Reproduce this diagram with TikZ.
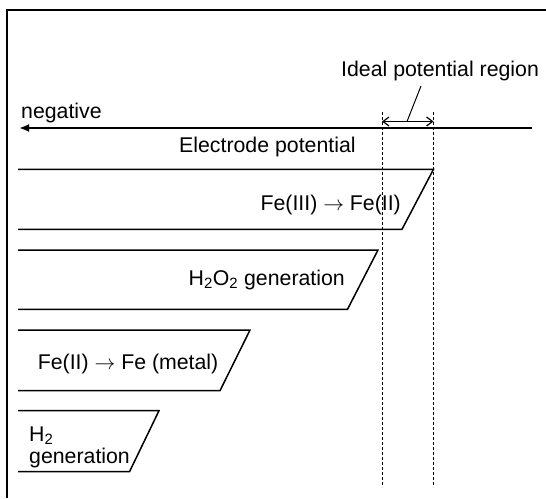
\documentclass[tikz,border=0pt]{standalone}
\usepackage{fontspec}
\setmainfont{Liberation Sans}
\usetikzlibrary{arrows.meta}
\begin{document}
\begin{tikzpicture}[x=1pt,y=-1pt,
  lbl/.style={inner sep=0pt,font=\fontsize{21.3}{23}\selectfont},
  band/.style={line width=1.5pt},
  guide/.style={line width=0.7pt,dash pattern=on 3pt off 2pt},
  frame/.style={line width=1.8pt},
  axis/.style={line width=2.5pt,-{Latex[length=10pt,width=8pt]}},
  span/.style={line width=1.2pt,{Straight Barb[length=6pt,width=9pt]}-{Straight Barb[length=6pt,width=9pt]}},
  leader/.style={line width=1pt}]
\useasboundingbox (0,0) rectangle (546,498);
% frame
\coordinate (fb) at (7.3,498);
\coordinate (fc) at (7.3,10.3);
\coordinate (fr) at (546,10.3);
\draw[frame] (fb) -- (fc) -- (fr);
% potential axis
\coordinate (aR) at (532,128);
\coordinate (aL) at (19,128);
\draw[axis] (aR) -- (aL);
\node[lbl,anchor=base west] (neg) at (21,118) {negative};
\node[lbl,anchor=base west] (ep) at (179,152) {Electrode potential};
% ideal region guides
\coordinate (d1t) at (382,112);
\coordinate (d1b) at (382,487);
\coordinate (d2t) at (433.5,112);
\coordinate (d2b) at (433.5,487);
\draw[guide] (d1t) -- (d1b);
\draw[guide] (d2t) -- (d2b);
\coordinate (s1) at (382,121.5);
\coordinate (s2) at (433.5,121.5);
\draw[span] (s1) -- (s2);
\node[lbl,anchor=base west] (ideal) at (341,76) {Ideal potential region};
\coordinate (lb) at (407,121.5);
\coordinate (lt) at (421,86);
\draw[leader] (lb) -- (lt);
% bands
\draw[band] (18,169.3) -- (433.5,169.3) -- (402,229.3) -- (18,229.3);
\node[lbl,anchor=base east] (t1) at (401,210) {Fe(III) $\rightarrow$ Fe(II)};
\draw[band] (18,250) -- (378,250) -- (347.5,309.3) -- (18,309.3);
\node[lbl,anchor=base east] (t2) at (345,285) {H\textsubscript{2}O\textsubscript{2} generation};
\draw[band] (18,330) -- (250,330) -- (220,390.7) -- (18,390.7);
\node[lbl,anchor=base west] (t3) at (37.6,369.3) {Fe(II) $\rightarrow$ Fe (metal)};
\draw[band] (18,410.7) -- (159,410.7) -- (129.5,471.7) -- (18,471.7);
\node[lbl,anchor=base west] (t4a) at (29,441) {H\textsubscript{2}};
\node[lbl,anchor=base west] (t4b) at (29,463) {generation};
\end{tikzpicture}
\end{document}
